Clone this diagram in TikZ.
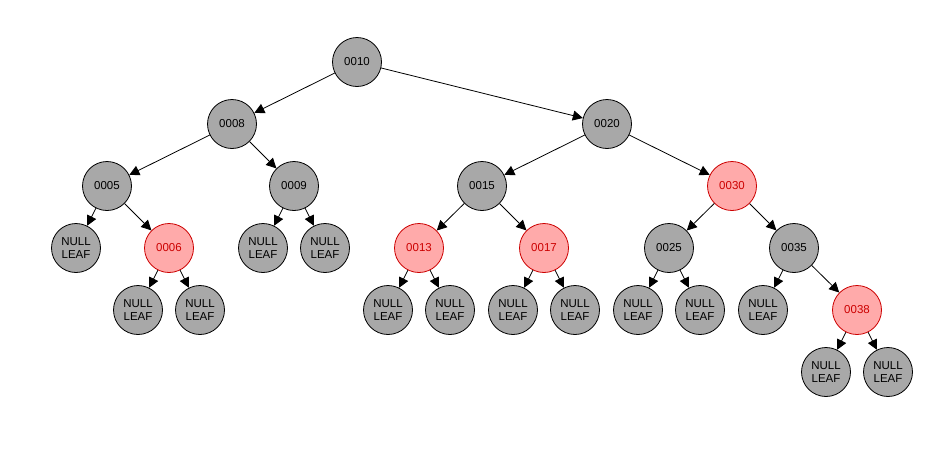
\documentclass[tikz,border=0pt]{standalone}
\usepackage{fontspec}
\setmainfont{Liberation Sans}
\usetikzlibrary{arrows.meta}
\definecolor{nodegray}{HTML}{A8A8A8}
\definecolor{redfill}{HTML}{FFAAAA}
\definecolor{redline}{HTML}{CC0000}
\begin{document}
\begin{tikzpicture}[x=1pt,y=-1pt,
  blk/.style={circle,draw=black,fill=nodegray,line width=0.8pt,minimum size=49pt,inner sep=0pt,font=\fontsize{11.5}{13}\selectfont,align=center},
  rd/.style={circle,draw=redline,fill=redfill,line width=0.8pt,minimum size=49pt,inner sep=0pt,font=\fontsize{11.5}{13}\selectfont,text=redline},
  lf/.style={blk},
  edge/.style={-{Triangle[length=10pt,width=10pt]},line width=0.8pt}]
\useasboundingbox (0,0) rectangle (941,456);
\node[blk] (n10) at (357,62) {0010};
\node[blk] (n8) at (232,124) {0008};
\node[blk] (n20) at (607,124) {0020};
\node[blk] (n5) at (107,186) {0005};
\node[blk] (n9) at (294,186) {0009};
\node[blk] (n15) at (482,186) {0015};
\node[rd] (n30) at (732,186) {0030};
\node[lf] (l5a) at (76,248) {NULL\\LEAF};
\node[rd] (n6) at (169,248) {0006};
\node[lf] (l9a) at (263,248) {NULL\\LEAF};
\node[lf] (l9b) at (325,248) {NULL\\LEAF};
\node[rd] (n13) at (419,248) {0013};
\node[rd] (n17) at (544,248) {0017};
\node[blk] (n25) at (669,248) {0025};
\node[blk] (n35) at (794,248) {0035};
\node[lf] (l6a) at (138,310) {NULL\\LEAF};
\node[lf] (l6b) at (200,310) {NULL\\LEAF};
\node[lf] (l13a) at (388,310) {NULL\\LEAF};
\node[lf] (l13b) at (450,310) {NULL\\LEAF};
\node[lf] (l17a) at (513,310) {NULL\\LEAF};
\node[lf] (l17b) at (575,310) {NULL\\LEAF};
\node[lf] (l25a) at (638,310) {NULL\\LEAF};
\node[lf] (l25b) at (700,310) {NULL\\LEAF};
\node[lf] (l35a) at (763,310) {NULL\\LEAF};
\node[rd] (n38) at (857,310) {0038};
\node[lf] (l38a) at (826,372) {NULL\\LEAF};
\node[lf] (l38b) at (888,372) {NULL\\LEAF};
\foreach \a/\b in {n10/n8,n10/n20,n8/n5,n8/n9,n20/n15,n20/n30,n5/l5a,n5/n6,n9/l9a,n9/l9b,n15/n13,n15/n17,n30/n25,n30/n35,n6/l6a,n6/l6b,n13/l13a,n13/l13b,n17/l17a,n17/l17b,n25/l25a,n25/l25b,n35/l35a,n35/n38,n38/l38a,n38/l38b}
  \draw[edge] (\a) -- (\b);
\end{tikzpicture}
\end{document}
